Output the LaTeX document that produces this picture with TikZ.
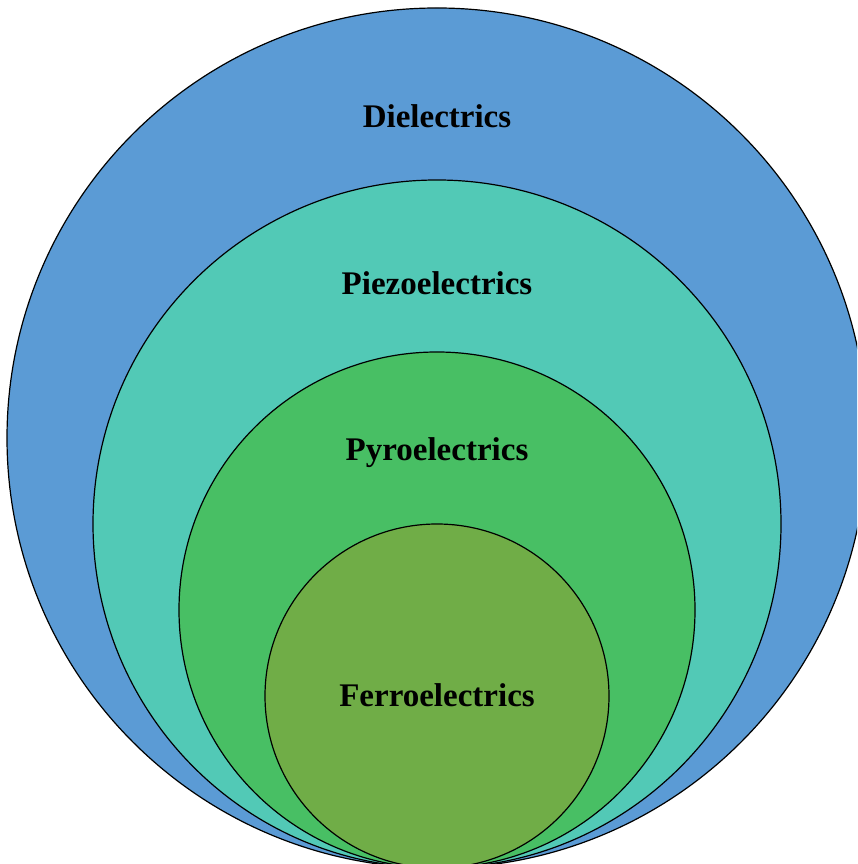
\documentclass[tikz,border=0pt]{standalone}
\usepackage{fontspec}
\setmainfont{Liberation Serif}
\usetikzlibrary{calc}
\definecolor{DielBlue}{HTML}{5B9BD5}
\definecolor{PiezoTeal}{HTML}{52C9B6}
\definecolor{PyroGreen}{HTML}{48BF64}
\definecolor{FerroGreen}{HTML}{70AD47}

\begin{document}
\begin{tikzpicture}[x=1pt,y=1pt,every node/.style={font=\fontsize{33}{38}\selectfont\bfseries,text=black,anchor=base}]
\useasboundingbox (0,0) rectangle (857,864);
\fill[white] (0,0) rectangle (857,864);
\clip (0,0) rectangle (857,864);
\coordinate (T) at (437,-4);
\draw[fill=DielBlue,line width=1.2pt] ($(T)+(0,430)$) circle[radius=430];
\draw[fill=PiezoTeal,line width=1.2pt] ($(T)+(0,344)$) circle[radius=344];
\draw[fill=PyroGreen,line width=1.2pt] ($(T)+(0,258)$) circle[radius=258];
\draw[fill=FerroGreen,line width=1.2pt] ($(T)+(0,172)$) circle[radius=172];
\node (diel) at (437,736) {Dielectrics};
\node (piezo) at (437,569) {Piezoelectrics};
\node (pyro) at (437,403) {Pyroelectrics};
\node (ferro) at (437,157) {Ferroelectrics};
\end{tikzpicture}
\end{document}
